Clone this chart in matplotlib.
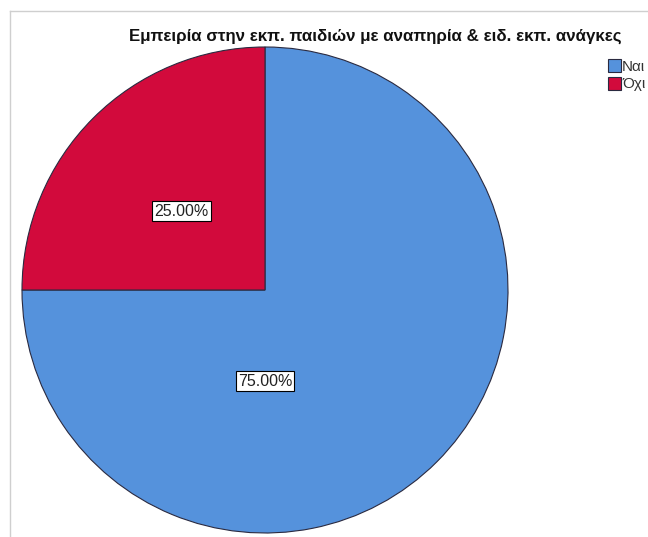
import matplotlib.pyplot as plt
from matplotlib.lines import Line2D

plt.rcParams['font.family'] = ['Liberation Sans', 'DejaVu Sans']

title = 'Εμπειρία στην εκπ. παιδιών με αναπηρία & ειδ. εκπ. ανάγκες'
labels = ['Ναι', 'Όχι']
percent = [75.0, 25.0]
colors = ['#5592dc', '#d20a3c']

fig = plt.figure(figsize=(6.48, 5.37), dpi=100)

# pie area: 486 px square, centre at (264.5, 290) px
ax = fig.add_axes([22 / 648, 4 / 537, 486 / 648, 486 / 537])
wedges, _ = ax.pie(percent, colors=colors, startangle=90, counterclock=False,
                   radius=1.0,
                   wedgeprops=dict(edgecolor='#2a2a40', linewidth=0.8))
ax.set_xlim(-1, 1)
ax.set_ylim(-1, 1)
ax.set_aspect('auto')
ax.axis('off')

# value labels (placed the way SPSS puts them)
label_pos = [(0.0, -0.375), (-0.345, 0.325)]
for p, (x, y) in zip(percent, label_pos):
    ax.text(x, y, '%.2f%%' % p, ha='center', va='center', fontsize=11.5,
            color='#222222',
            bbox=dict(boxstyle='square,pad=0.14', facecolor='white',
                      edgecolor='black', linewidth=0.8))

fig.text(375 / 648, 1 - 36 / 537, title, ha='center', va='center',
         fontsize=12.2, fontweight='bold', color='#111111')

fig.legend(wedges, labels, loc='upper left',
           bbox_to_anchor=(597 / 648, 1 - 48 / 537), frameon=False,
           fontsize=11, handlelength=0.85, handleheight=0.95,
           handletextpad=0.1, labelspacing=0.2, borderpad=0.2,
           labelcolor='#333333')

# thin outer frame on the top and left
fig.add_artist(Line2D([10 / 648, 1], [1 - 11 / 537, 1 - 11 / 537],
                      transform=fig.transFigure, color='#cfcfcf', lw=1))
fig.add_artist(Line2D([10 / 648, 10 / 648], [0, 1 - 11 / 537],
                      transform=fig.transFigure, color='#cfcfcf', lw=1))

fig.savefig('out.png', dpi=100)
